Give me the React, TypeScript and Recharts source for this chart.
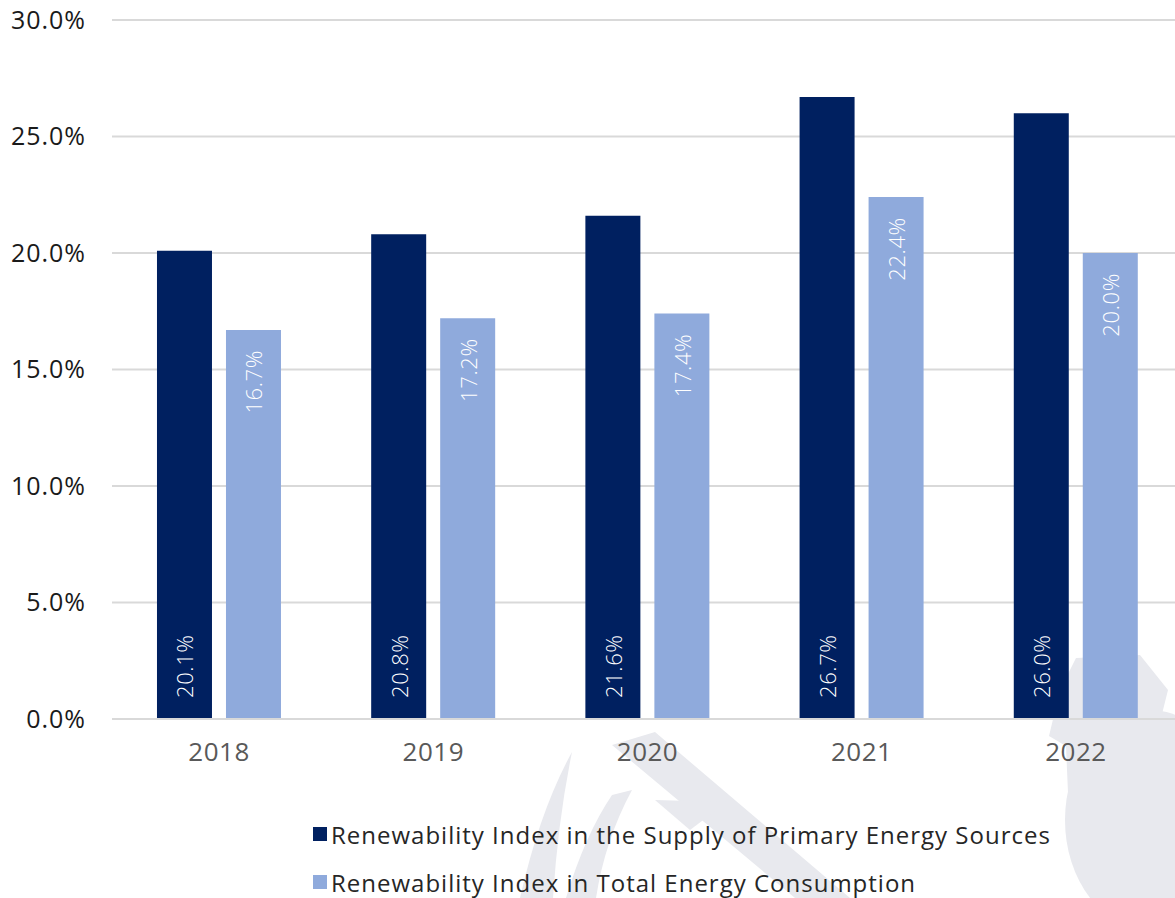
import { Bar, BarChart, CartesianGrid, LabelList, XAxis, YAxis } from 'recharts';

const years = ['2018', '2019', '2020', '2021', '2022'];
const supplyIndex = [20.1, 20.8, 21.6, 26.7, 26.0];
const consumptionIndex = [16.7, 17.2, 17.4, 22.4, 20.0];
const yTicks = [0, 5, 10, 15, 20, 25, 30];

const SUPPLY_LABEL = 'Renewability Index in the Supply of Primary Energy Sources';
const CONSUMPTION_LABEL = 'Renewability Index in Total Energy Consumption';

const DARK = '#002060';
const LIGHT = '#8FAADC';
const FONT = '"Open Sans", "DejaVu Sans", sans-serif';

const data = years.map((year, i) => ({
  year,
  supply: supplyIndex[i],
  consumption: consumptionIndex[i],
}));

const pct = (v: number) => `${Number(v).toFixed(1)}%`;

interface LabelProps {
  x?: number | string;
  y?: number | string;
  width?: number | string;
  height?: number | string;
  value?: number | string;
}

// value written upwards, sitting at the foot of the bar
function BottomLabel({ x = 0, y = 0, width = 0, height = 0, value }: LabelProps) {
  const cx = Number(x) + Number(width) / 2;
  const cy = Number(y) + Number(height) - 21;
  return (
    <text
      x={cx}
      y={cy}
      transform={`rotate(-90 ${cx} ${cy})`}
      textAnchor="start"
      dominantBaseline="central"
      fill="#fff"
      fontSize={22}
      fontWeight={300}
      letterSpacing={0.6}
      fontFamily={FONT}
    >
      {pct(Number(value))}
    </text>
  );
}

// value written upwards, hanging from the top of the bar
function TopLabel({ x = 0, y = 0, width = 0, value }: LabelProps) {
  const cx = Number(x) + Number(width) / 2;
  const cy = Number(y) + 20;
  return (
    <text
      x={cx}
      y={cy}
      transform={`rotate(-90 ${cx} ${cy})`}
      textAnchor="end"
      dominantBaseline="central"
      fill="#fff"
      fontSize={22}
      fontWeight={300}
      letterSpacing={0.6}
      fontFamily={FONT}
    >
      {pct(Number(value))}
    </text>
  );
}

// faint logo shapes behind the plot
function Watermark() {
  const fill = '#E8E9EE';
  return (
    <svg width={1175} height={898} style={{ position: 'absolute', left: 0, top: 0 }}>
      <g fill={fill}>
        <path d="M520 898 Q540 810 572 752 Q558 820 553 898 Z" />
        <path d="M566 898 Q585 835 612 795 L632 790 Q605 840 596 898 Z" />
        <path d="M612 745 L655 732 L850 898 L795 898 Z" />
        <path d="M655 800 L727 802 L690 830 Z" />
        <polygon points="1049,736 1060,690 1076,658 1140,655 1168,690 1160,722 1175,760 1175,898 1100,898 1070,840 1066,746" />
        <ellipse cx={1150} cy={820} rx={85} ry={110} />
      </g>
    </svg>
  );
}

function LegendRow({ color, label, top }: { color: string; label: string; top: number }) {
  return (
    <div
      style={{
        position: 'absolute',
        left: 313,
        top,
        display: 'flex',
        alignItems: 'center',
        height: 30,
        fontFamily: FONT,
        fontSize: 24,
        letterSpacing: 1,
        color: '#262626',
        whiteSpace: 'nowrap',
      }}
    >
      <span style={{ width: 14, height: 14, background: color, marginRight: 4, display: 'inline-block' }} />
      {label}
    </div>
  );
}

export default function App() {
  return (
    <div
      style={{
        position: 'absolute',
        left: 0,
        top: 0,
        width: 1175,
        height: 898,
        overflow: 'hidden',
        background: '#fff',
      }}
    >
      <Watermark />
      <div style={{ position: 'absolute', left: 0, top: 0 }}>
        <BarChart
          width={1183}
          height={898}
          data={data}
          margin={{ top: 20, right: 0, left: 0, bottom: 130 }}
          barCategoryGap="21%"
          barGap={14}
        >
          <CartesianGrid vertical={false} stroke="#D9D9D9" strokeWidth={2} />
          <XAxis
            dataKey="year"
            height={49}
            axisLine={{ stroke: '#D9D9D9', strokeWidth: 2 }}
            tickLine={false}
            tickSize={0}
            tickMargin={24}
            tick={{ fontSize: 26, fill: '#595959', fontFamily: FONT, letterSpacing: 0.5 }}
          />
          <YAxis
            width={112}
            domain={[0, 30]}
            ticks={yTicks}
            tickFormatter={pct}
            axisLine={false}
            tickLine={false}
            tickSize={0}
            tickMargin={26}
            tick={{ fontSize: 25, fill: '#1a1a1a', fontFamily: FONT, letterSpacing: 1 }}
          />
          <Bar dataKey="supply" fill={DARK} isAnimationActive={false}>
            <LabelList dataKey="supply" content={BottomLabel} />
          </Bar>
          <Bar dataKey="consumption" fill={LIGHT} isAnimationActive={false}>
            <LabelList dataKey="consumption" content={TopLabel} />
          </Bar>
        </BarChart>
      </div>
      <LegendRow color={DARK} label={SUPPLY_LABEL} top={819} />
      <LegendRow color={LIGHT} label={CONSUMPTION_LABEL} top={867} />
    </div>
  );
}
